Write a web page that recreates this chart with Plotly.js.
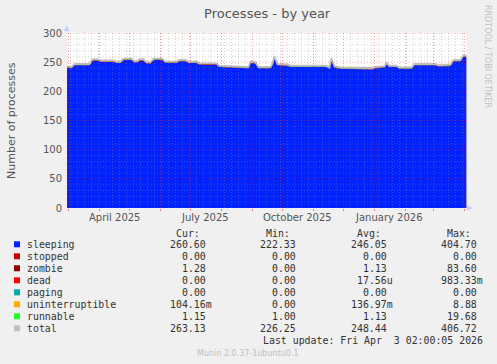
<!DOCTYPE html>
<html><head><meta charset="utf-8">
<script src="https://cdn.plot.ly/plotly-3.0.1.min.js"></script>
<style>html,body{margin:0;padding:0;background:#f0f0f0;}#chart{width:497px;height:364px;}</style>
</head><body><div id="chart"></div>
<script>
// ---- data ----
const dates = ['2025-02-27','2025-03-04','2025-03-07','2025-03-22','2025-03-25','2025-03-30','2025-04-02','2025-04-15','2025-04-18','2025-04-22',
'2025-04-25','2025-05-03','2025-05-06','2025-05-09','2025-05-11','2025-05-15','2025-05-18','2025-05-22','2025-05-25','2025-06-03',
'2025-06-06','2025-06-17','2025-06-20','2025-06-26','2025-06-29','2025-07-07','2025-07-10','2025-07-27','2025-07-30','2025-08-12',
'2025-08-15','2025-08-28','2025-08-30','2025-09-04','2025-09-07','2025-09-19','2025-09-21','2025-09-23','2025-09-26','2025-10-06',
'2025-10-09','2025-11-14','2025-11-17','2025-11-19','2025-11-22','2025-11-28','2025-12-30','2026-01-02','2026-01-11','2026-01-13',
'2026-01-16','2026-01-23','2026-01-26','2026-02-07','2026-02-10','2026-03-03','2026-03-06','2026-03-18','2026-03-21','2026-03-28',
'2026-03-31','2026-04-03'];
const sleeping = [240.6,239.6,244.6,244.6,252.6,252.6,250.6,250.6,248.6,248.6,
253.6,253.6,249.6,249.6,252.6,252.6,247.6,247.6,253.6,253.6,
248.6,248.6,251.6,251.6,248.6,248.6,245.6,245.6,241.6,240.6,
239.6,239.6,248.6,247.6,239.6,239.6,245.6,257.6,244.6,243.6,
241.6,241.6,238.6,254.6,240.6,238.6,237.6,239.6,240.6,246.6,
241.6,241.6,238.6,238.6,244.6,244.6,242.6,243.6,251.6,251.6,
259.6,258.6];
const stopped = [0,0,0,0,0,0,0,0,0,0, 0,0,0,0,0,0,0,0,0,0, 0,0,0,0,0,0,0,0,0,0, 0,0,0,0,0,0,0,0,0,0, 0,0,0,0,0,0,0,0,0,0, 0,0,0,0,0,0,0,0,0,0, 0,0];
const zombie = [1.1,1.1,1.1,1.2,1.2,1.1,1.1,1.1,1.0,1.0,
1.2,1.2,1.1,1.1,1.2,1.2,1.0,1.0,1.2,1.2,
1.1,1.1,1.1,1.1,1.0,1.0,1.1,1.1,1.0,1.0,
1.0,1.0,1.2,1.2,1.0,1.0,1.1,1.3,1.1,1.1,
1.0,1.0,1.0,1.2,1.0,1.0,1.0,1.1,1.1,1.2,
1.1,1.1,1.0,1.0,1.1,1.1,1.1,1.1,1.2,1.2,
1.3,1.3];
const dead = [0,0,0,0,0,0,0,0,0,0, 0,0,0,0,0,0,0,0,0,0, 0,0,0,0,0,0,0,0,0,0, 0,0,0,0,0,0,0,0,0,0, 0,0,0,0,0,0,0,0,0,0, 0,0,0,0,0,0,0,0,0,0, 0,0];
const paging = [0,0,0,0,0,0,0,0,0,0, 0,0,0,0,0,0,0,0,0,0, 0,0,0,0,0,0,0,0,0,0, 0,0,0,0,0,0,0,0,0,0, 0,0,0,0,0,0,0,0,0,0, 0,0,0,0,0,0,0,0,0,0, 0,0];
const uninterruptible = [0.1,0.1,0.2,0.1,0.2,0.1,0.1,0.2,0.1,0.1,
0.2,0.1,0.1,0.1,0.2,0.1,0.1,0.1,0.2,0.1,
0.1,0.2,0.1,0.1,0.1,0.1,0.2,0.1,0.1,0.1,
0.1,0.1,0.2,0.1,0.1,0.1,0.2,0.3,0.1,0.1,
0.1,0.1,0.1,0.2,0.1,0.1,0.1,0.1,0.1,0.2,
0.1,0.1,0.1,0.1,0.2,0.1,0.1,0.1,0.2,0.1,
0.1,0.1];
const runnable = [1.1,1.1,1.1,1.2,1.2,1.1,1.1,1.1,1.1,1.1,
1.2,1.1,1.1,1.1,1.2,1.2,1.1,1.1,1.2,1.2,
1.1,1.1,1.2,1.1,1.1,1.1,1.1,1.1,1.1,1.1,
1.1,1.1,1.2,1.2,1.1,1.1,1.2,1.4,1.1,1.1,
1.1,1.1,1.1,1.3,1.1,1.1,1.1,1.1,1.1,1.2,
1.1,1.1,1.1,1.1,1.2,1.1,1.1,1.1,1.2,1.2,
1.2,1.2];
const total = [243,242,247,247,255,255,253,253,251,251,
256,256,252,252,255,255,250,250,256,256,
251,251,254,254,251,251,248,248,244,243,
242,242,251,250,242,242,248,260,247,246,
244,244,241,257,243,241,240,242,243,249,
244,244,241,241,247,247,245,246,254,254,
262,261];

const seriesNames = ['sleeping','stopped','zombie','dead','paging','uninterruptible','runnable','total'];
const seriesColors = ['#0022ff','#cc0000','#990000','#ff0000','#00aaaa','#ffaa00','#22ff22','#c0c0c0'];
const curVals = ['260.60','0.00','1.28','0.00','0.00','104.16m','1.15','263.13'];
const minVals = ['222.33','0.00','0.00','0.00','0.00','0.00','1.00','226.25'];
const avgVals = ['246.05','0.00','1.13','17.56u','0.00','136.97m','1.13','248.44'];
const maxVals = ['404.70','0.00','83.60','983.33m','0.00','8.88','19.68','406.72'];
const monthLabels = ['April 2025','July 2025','October 2025','January 2026'];
const monthLabelDates = ['2025-04-16','2025-07-16','2025-10-16','2026-01-16'];
const yTicks = [0,50,100,150,200,250,300];

// ---- geometry ----
const L = 67, T = 33, PW = 400, PH = 175, B = 364 - T - PH, R = 497 - L - PW;
const px = x => (x - L) / PW;
const py = y => (T + PH - y) / PH;
const xRange = ['2025-02-27 12:00', '2026-04-03 14:00'];

const stackSeries = [sleeping, stopped, zombie, dead, paging, uninterruptible, runnable];
const traces = stackSeries.map((ys, i) => ({
  type: 'scatter', mode: 'lines', x: dates, y: ys, stackgroup: 'procs',
  name: seriesNames[i], line: {width: 0, color: seriesColors[i]},
  fillcolor: seriesColors[i], hoverinfo: 'skip'
}));
traces.push({type: 'scatter', mode: 'lines', x: dates, y: total, name: 'total',
  line: {width: 1.8, color: seriesColors[7]}, hoverinfo: 'skip'});

const mono = 'DejaVu Sans Mono', sans = 'DejaVu Sans';
const annotations = [];
const ann = (o) => annotations.push(Object.assign({showarrow: false, xref: 'paper', yref: 'paper', borderpad: 0, borderwidth: 0}, o));

monthLabels.forEach((t, i) => ann({text: t, xref: 'x', x: monthLabelDates[i], y: py(217.5), xanchor: 'center', yanchor: 'middle',
  font: {family: sans, size: 10, color: '#555'}}));
ann({text: 'Number of processes', x: px(11), y: py(120), textangle: -90, xanchor: 'center', yanchor: 'middle',
  font: {family: sans, size: 11, color: '#555'}});
ann({text: 'RRDTOOL / TOBI OETIKER', x: px(488), y: py(56), textangle: 90, xanchor: 'center', yanchor: 'middle',
  font: {family: sans, size: 8, color: '#c0c0c0'}});
const legFont = {family: mono, size: 9.9, color: '#333'};
const colRight = [211.7, 302, 392.7, 482.7];
const headers = ['Cur:', 'Min:', 'Avg:', 'Max:'];
headers.forEach((h, j) => ann({text: h, x: px(colRight[j] - 12), y: py(233), xanchor: 'right', yanchor: 'middle', font: legFont}));
const shapes = [];

// grid drawn above the areas, like rrdtool
const minorCol = 'rgba(140,140,140,0.38)', majorCol = 'rgba(255,0,0,0.4)', gdash = '1px,2px';
const dayMs = 86400000;
const t1 = new Date(xRange[1].replace(' ', 'T') + 'Z').getTime();
const iso = t => new Date(t).toISOString().slice(0, 10);
for (let t = Date.UTC(2025, 2, 3); t <= t1; t += 7 * dayMs) {
  const d = new Date(t); if (d.getUTCDate() === 1) continue;
  shapes.push({type: 'line', layer: 'above', xref: 'x', yref: 'paper', x0: iso(t), x1: iso(t), y0: 0, y1: 1, line: {color: minorCol, width: 1, dash: gdash}});
}
for (let m = 2; ; m++) {
  const t = Date.UTC(2025, m, 1); if (t > t1) break;
  shapes.push({type: 'line', layer: 'above', xref: 'x', yref: 'paper', x0: iso(t), x1: iso(t), y0: 0, y1: 1, line: {color: majorCol, width: 1, dash: gdash}});
}
for (let v = 10; v <= 300; v += 10) {
  shapes.push({type: 'line', layer: 'above', xref: 'paper', yref: 'y', x0: 0, x1: 1, y0: v, y1: v,
    line: {color: v % 50 === 0 ? majorCol : minorCol, width: 1, dash: gdash}});
}

const fmt = s => /[a-z]$/.test(s) ? s : s + '\u00a0';
seriesNames.forEach((n, i) => {
  const yc = 244.3 + 12 * i;
  shapes.push({type: 'rect', xref: 'paper', yref: 'paper', x0: px(14), x1: px(20), y0: py(yc - 3), y1: py(yc + 3),
    fillcolor: seriesColors[i], line: {width: 0}});
  ann({text: n, x: px(26.5), y: py(yc), xanchor: 'left', yanchor: 'middle', font: legFont});
  [curVals, minVals, avgVals, maxVals].forEach((arr, j) =>
    ann({text: fmt(arr[i]), x: px(colRight[j]), y: py(yc), xanchor: 'right', yanchor: 'middle', font: legFont}));
});
ann({text: 'Last update: Fri Apr\u00a0 3 02:00:05 2026', x: px(483), y: py(340.3), xanchor: 'right', yanchor: 'middle', font: legFont});
ann({text: 'Munin 2.0.37-1ubuntu0.1', x: px(248), y: py(353.3), xanchor: 'center', yanchor: 'middle',
  font: {family: sans, size: 8, color: '#c0c0c0'}});

shapes.push({type: 'path', xref: 'paper', yref: 'paper', layer: 'above',
  path: `M ${px(63.7)} ${py(31)} L ${px(69.7)} ${py(31)} L ${px(66.7)} ${py(25)} Z`, fillcolor: '#c8d0ff', line: {width: 0}});
shapes.push({type: 'path', xref: 'paper', yref: 'paper', layer: 'above',
  path: `M ${px(467)} ${py(205)} L ${px(467)} ${py(211)} L ${px(473)} ${py(208)} Z`, fillcolor: '#c8d0ff', line: {width: 0}});

const layout = {
  width: 497, height: 364,
  margin: {l: L, r: R, t: T, b: B, pad: 0},
  paper_bgcolor: '#f0f0f0', plot_bgcolor: '#ffffff',
  showlegend: false,
  title: {text: 'Processes - by year', font: {family: sans, size: 13, color: '#555'},
    x: 248.7 / 497, xref: 'paper', xanchor: 'center', y: 1 - 13.3 / 364, yref: 'container', yanchor: 'middle'},
  xaxis: {type: 'date', range: xRange, dtick: 'M1', tick0: '2025-03-01',
    showticklabels: false, ticks: 'outside', ticklen: 2, tickcolor: 'rgba(255,0,0,0.5)',
    showgrid: false, zeroline: false, showline: false, fixedrange: true},
  yaxis: {range: [0, 300], tickvals: yTicks, ticktext: yTicks.map(String),
    tickfont: {family: sans, size: 10, color: '#555'}, ticks: '', ticklabelstandoff: 4,
    showgrid: false, zeroline: false, showline: false, fixedrange: true},
  annotations: annotations,
  shapes: shapes
};
Plotly.newPlot('chart', traces, layout, {staticPlot: true, displayModeBar: false});
</script></body></html>
